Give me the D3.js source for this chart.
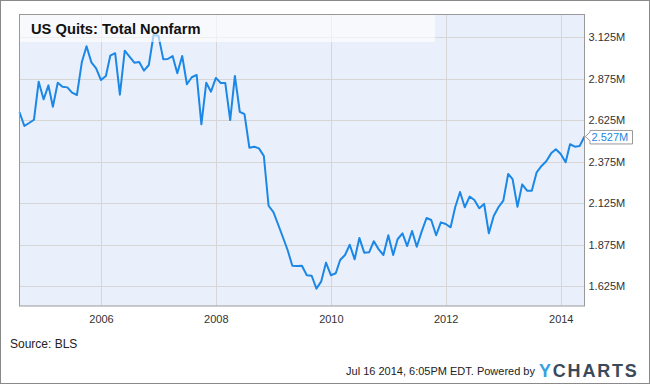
<!DOCTYPE html>
<html>
<head>
<meta charset="utf-8">
<script src="https://cdn.jsdelivr.net/npm/d3@7"></script>
<style>
  body { margin: 0; background: #fff; }
  text { font-family: "Liberation Sans", Arial, sans-serif; }
</style>
</head>
<body>
<div class="canvas"></div>
<script>
// monthly quits, millions, Aug 2004 .. Jun 2014
const startMonth = new Date(2004, 7, 1);
const quits = [
  2.673, 2.590, 2.608, 2.628, 2.857,
  2.751, 2.835, 2.706, 2.851, 2.827, 2.823, 2.791, 2.777, 2.974, 3.071, 2.974, 2.938,
  2.867, 2.892, 3.014, 3.029, 2.779, 3.044, 3.008, 2.972, 2.976, 2.924, 2.958, 3.139,
  3.135, 2.992, 2.994, 3.012, 2.908, 3.012, 2.842, 2.884, 2.898, 2.600, 2.851, 2.797,
  2.880, 2.849, 2.849, 2.626, 2.892, 2.676, 2.662, 2.459, 2.465, 2.455, 2.409, 2.109,
  2.070, 1.993, 1.922, 1.842, 1.747, 1.746, 1.747, 1.690, 1.687, 1.609, 1.653, 1.766,
  1.690, 1.702, 1.782, 1.812, 1.874, 1.786, 1.915, 1.826, 1.828, 1.895, 1.846, 1.812,
  1.931, 1.812, 1.907, 1.943, 1.866, 1.957, 1.862, 1.953, 2.035, 2.023, 1.931, 2.009,
  1.999, 1.979, 2.100, 2.192, 2.100, 2.164, 2.144, 2.094, 2.120, 1.943, 2.047, 2.100,
  2.140, 2.301, 2.269, 2.103, 2.238, 2.200, 2.200, 2.311, 2.349, 2.377, 2.425, 2.450,
  2.421, 2.371, 2.480, 2.465, 2.469, 2.527
];
const yTicks = [1.625, 1.875, 2.125, 2.375, 2.625, 2.875, 3.125];
const xTickYears = [2006, 2008, 2010, 2012, 2014];

const months = d3.timeMonth.range(startMonth, d3.timeMonth.offset(startMonth, quits.length));
const data = quits.map((v, i) => ({ date: months[i], value: v }));

const W = 650, H = 384;
const plotLeft = 19.5, plotRight = 584.5, plotTop = 15, plotBottom = 306;

const svg = d3.select('.canvas').append('svg').attr('width', W).attr('height', H);

//outer frame
svg.append('rect')
  .attr('x', 0.5).attr('y', 0.5)
  .attr('width', W - 1).attr('height', H - 1)
  .attr('fill', '#fff').attr('stroke', '#8a8a8a');

const x = d3.scaleTime()
  .domain([data[0].date, data[data.length - 1].date])
  .range([plotLeft, plotRight]);

const y = d3.scaleLinear()
  .domain([1.5044, 3.2595])
  .range([plotBottom, plotTop]);

//plot background
svg.append('rect')
  .attr('x', plotLeft).attr('y', plotTop)
  .attr('width', plotRight - plotLeft).attr('height', plotBottom - plotTop)
  .attr('fill', '#eaf0fb');

//grid
svg.append('g')
  .selectAll('line')
  .data(yTicks)
  .join('line')
  .attr('x1', plotLeft).attr('x2', plotRight)
  .attr('y1', d => Math.round(y(d)) + 0.5).attr('y2', d => Math.round(y(d)) + 0.5)
  .attr('stroke', '#d6d6d6');

const xTicks = xTickYears.map(yr => new Date(yr, 0, 1));
svg.append('g')
  .selectAll('line')
  .data(xTicks)
  .join('line')
  .attr('x1', d => Math.round(x(d)) + 0.5).attr('x2', d => Math.round(x(d)) + 0.5)
  .attr('y1', plotTop).attr('y2', plotBottom)
  .attr('stroke', '#d6d6d6');

//line
const line = d3.line().x(d => x(d.date)).y(d => y(d.value));
svg.append('path')
  .datum(data)
  .attr('d', line)
  .attr('fill', 'none')
  .attr('stroke', '#1b87e6')
  .attr('stroke-width', 2)
  .attr('stroke-linejoin', 'round');

//title banner
svg.append('rect')
  .attr('x', plotLeft).attr('y', plotTop)
  .attr('width', 435 - plotLeft).attr('height', 27)
  .attr('fill', '#fff').attr('opacity', 0.6);

svg.append('text')
  .attr('x', 31).attr('y', 34)
  .attr('fill', '#111')
  .style('font-size', '14.7px')
  .style('font-weight', 'bold')
  .text('US Quits: Total Nonfarm');

//plot frame
svg.append('rect')
  .attr('x', plotLeft).attr('y', plotTop - 0.5)
  .attr('width', plotRight - plotLeft).attr('height', plotBottom - plotTop + 0.5)
  .attr('fill', 'none').attr('stroke', '#999');

//axes
const yAxis = d3.axisRight(y)
  .tickValues(yTicks)
  .tickSize(0)
  .tickPadding(4)
  .tickFormat(d => d3.format('.3f')(d) + 'M');

svg.append('g')
  .attr('transform', `translate(${plotRight},0)`)
  .call(yAxis)
  .call(g => g.select('.domain').remove())
  .selectAll('text')
  .style('font-size', '11px')
  .style('font-family', '"Liberation Sans", Arial, sans-serif')
  .attr('fill', '#333');

const xAxis = d3.axisBottom(x)
  .tickValues(xTicks)
  .tickSize(0)
  .tickPadding(9)
  .tickFormat(d3.timeFormat('%Y'));

svg.append('g')
  .attr('transform', `translate(0,${plotBottom})`)
  .call(xAxis)
  .call(g => g.select('.domain').remove())
  .selectAll('text')
  .style('font-size', '11px')
  .style('font-family', '"Liberation Sans", Arial, sans-serif')
  .attr('fill', '#333');

//last value callout
const last = data[data.length - 1];
const lx = x(last.date), ly = y(last.value);
svg.append('path')
  .attr('d', `M${lx + 1},${ly} L${lx + 5.5},${ly - 4.5} L${lx + 5.5},${ly - 6} L${lx + 48},${ly - 6} L${lx + 48},${ly + 7.5} L${lx + 5.5},${ly + 7.5} L${lx + 5.5},${ly + 4.5} Z`)
  .attr('fill', '#fff')
  .attr('stroke', '#999');

svg.append('text')
  .attr('x', lx + 7).attr('y', ly + 5)
  .attr('fill', '#1b87e6')
  .style('font-size', '11px')
  .text(d3.format('.3f')(last.value) + 'M');

//footer
svg.append('text')
  .attr('x', 10).attr('y', 348)
  .attr('fill', '#222')
  .style('font-size', '12px')
  .text('Source: BLS');

svg.append('text')
  .attr('x', 535).attr('y', 375)
  .attr('text-anchor', 'end')
  .attr('fill', '#222')
  .style('font-size', '11px')
  .text('Jul 16 2014, 6:05PM EDT.  Powered by');

const logo = svg.append('text')
  .attr('x', 539).attr('y', 377)
  .style('font-size', '18px')
  .style('font-weight', 'bold')
  .style('letter-spacing', '1.8px');
logo.append('tspan').attr('fill', '#3aa0e0').text('Y');
logo.append('tspan').attr('fill', '#3b4a5a').text('CHARTS');
</script>
</body>
</html>
